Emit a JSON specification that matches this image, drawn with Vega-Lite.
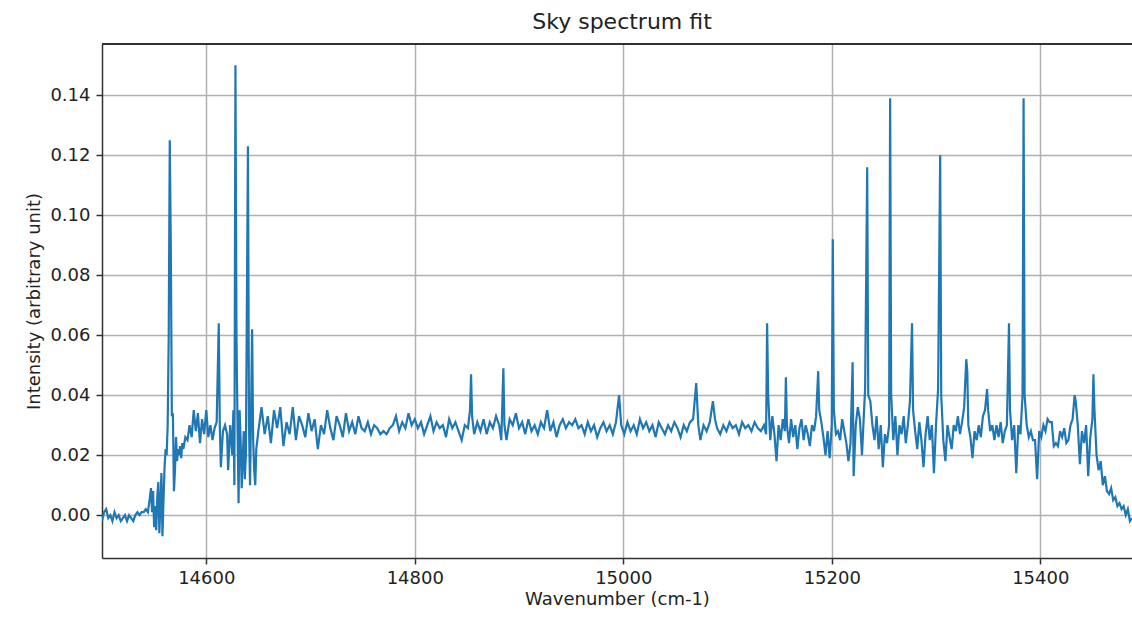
{
  "$schema": "https://vega.github.io/schema/vega-lite/v6.json",
  "width": 1030,
  "height": 514,
  "autosize": "none",
  "padding": {"left": 102, "top": 44, "right": 0, "bottom": 59},
  "config": {
    "view": {"stroke": null},
    "font": "DejaVu Sans",
    "axis": {
      "labelFont": "DejaVu Sans", "titleFont": "DejaVu Sans",
      "labelFontSize": 18, "titleFontSize": 18, "titleFontWeight": "normal",
      "labelColor": "#222", "titleColor": "#222",
      "domainColor": "#333", "domainWidth": 1.5,
      "tickColor": "#333", "tickWidth": 1.5, "tickSize": 6,
      "gridColor": "#b0b0b0", "gridWidth": 1.5, "gridOpacity": 1
    }
  },
  "title": {"text": "Sky spectrum fit", "fontSize": 22, "fontWeight": "normal", "font": "DejaVu Sans", "color": "#222", "offset": 9, "dx": 5},
  "data": {"values": [
    {"wavenumber":14500,"intensity":-0.002},{"wavenumber":14502,"intensity":0.001},{"wavenumber":14504,"intensity":0.002},{"wavenumber":14506,"intensity":-0.001},{"wavenumber":14508,"intensity":0.0},{"wavenumber":14510,"intensity":-0.002},{"wavenumber":14512,"intensity":0.001},{"wavenumber":14514,"intensity":-0.001},{"wavenumber":14516,"intensity":0.0},{"wavenumber":14518,"intensity":-0.002},{"wavenumber":14520,"intensity":-0.001},{"wavenumber":14522,"intensity":0.0},{"wavenumber":14524,"intensity":-0.002},{"wavenumber":14526,"intensity":0.0},{"wavenumber":14528,"intensity":-0.001},{"wavenumber":14530,"intensity":-0.002},{"wavenumber":14532,"intensity":0.0},{"wavenumber":14534,"intensity":0.001},{"wavenumber":14536,"intensity":0.0},{"wavenumber":14538,"intensity":0.001},{"wavenumber":14540,"intensity":0.001},{"wavenumber":14542,"intensity":0.002},{"wavenumber":14544,"intensity":0.001},
    {"wavenumber":14546,"intensity":0.006},{"wavenumber":14547,"intensity":0.009},{"wavenumber":14548,"intensity":0.001},{"wavenumber":14549,"intensity":0.008},{"wavenumber":14550,"intensity":-0.004},{"wavenumber":14551,"intensity":0.003},{"wavenumber":14552,"intensity":-0.005},{"wavenumber":14553,"intensity":0.006},{"wavenumber":14554,"intensity":0.011},{"wavenumber":14555,"intensity":-0.006},{"wavenumber":14556,"intensity":0.003},{"wavenumber":14557,"intensity":0.014},{"wavenumber":14558,"intensity":-0.007},{"wavenumber":14559,"intensity":0.005},{"wavenumber":14560,"intensity":0.016},{"wavenumber":14561,"intensity":0.022},{"wavenumber":14562,"intensity":0.02},{"wavenumber":14563,"intensity":0.03},{"wavenumber":14564,"intensity":0.06},{"wavenumber":14565,"intensity":0.125},{"wavenumber":14566,"intensity":0.09},{"wavenumber":14567,"intensity":0.033},{"wavenumber":14568,"intensity":0.034},{"wavenumber":14569,"intensity":0.008},{"wavenumber":14570,"intensity":0.015},{"wavenumber":14571,"intensity":0.026},{"wavenumber":14572,"intensity":0.018},{"wavenumber":14573,"intensity":0.022},{"wavenumber":14574,"intensity":0.02},{"wavenumber":14575,"intensity":0.023},{"wavenumber":14576,"intensity":0.019},{"wavenumber":14577,"intensity":0.024},{"wavenumber":14578,"intensity":0.022},{"wavenumber":14580,"intensity":0.026},{"wavenumber":14582,"intensity":0.025},
    {"wavenumber":14584,"intensity":0.03},{"wavenumber":14586,"intensity":0.026},{"wavenumber":14588,"intensity":0.035},{"wavenumber":14590,"intensity":0.028},{"wavenumber":14592,"intensity":0.034},{"wavenumber":14594,"intensity":0.024},{"wavenumber":14596,"intensity":0.032},{"wavenumber":14598,"intensity":0.027},{"wavenumber":14600,"intensity":0.035},{"wavenumber":14602,"intensity":0.026},{"wavenumber":14604,"intensity":0.03},{"wavenumber":14606,"intensity":0.025},{"wavenumber":14608,"intensity":0.029},{"wavenumber":14610,"intensity":0.031},{"wavenumber":14612,"intensity":0.064},{"wavenumber":14613,"intensity":0.03},{"wavenumber":14614,"intensity":0.016},{"wavenumber":14616,"intensity":0.028},{"wavenumber":14618,"intensity":0.03},{"wavenumber":14620,"intensity":0.027},{"wavenumber":14621,"intensity":0.015},{"wavenumber":14623,"intensity":0.03},{"wavenumber":14625,"intensity":0.02},{"wavenumber":14626,"intensity":0.035},{"wavenumber":14627,"intensity":0.01},{"wavenumber":14628,"intensity":0.15},{"wavenumber":14629,"intensity":0.06},{"wavenumber":14630,"intensity":0.03},{"wavenumber":14631,"intensity":0.004},{"wavenumber":14632,"intensity":0.035},{"wavenumber":14633,"intensity":0.025},{"wavenumber":14634,"intensity":0.009},{"wavenumber":14636,"intensity":0.028},{"wavenumber":14637,"intensity":0.012},{"wavenumber":14638,"intensity":0.02},{"wavenumber":14640,"intensity":0.123},{"wavenumber":14641,"intensity":0.03},{"wavenumber":14642,"intensity":0.01},{"wavenumber":14643,"intensity":0.035},{"wavenumber":14644,"intensity":0.062},{"wavenumber":14645,"intensity":0.025},{"wavenumber":14646,"intensity":0.015},{"wavenumber":14647,"intensity":0.01},{"wavenumber":14648,"intensity":0.022},
    {"wavenumber":14650,"intensity":0.028},{"wavenumber":14653,"intensity":0.036},{"wavenumber":14656,"intensity":0.027},{"wavenumber":14659,"intensity":0.033},{"wavenumber":14662,"intensity":0.024},{"wavenumber":14665,"intensity":0.035},{"wavenumber":14668,"intensity":0.029},{"wavenumber":14671,"intensity":0.036},{"wavenumber":14674,"intensity":0.023},{"wavenumber":14677,"intensity":0.031},{"wavenumber":14680,"intensity":0.027},{"wavenumber":14683,"intensity":0.036},{"wavenumber":14686,"intensity":0.025},{"wavenumber":14689,"intensity":0.033},{"wavenumber":14692,"intensity":0.03},{"wavenumber":14695,"intensity":0.026},{"wavenumber":14698,"intensity":0.034},{"wavenumber":14701,"intensity":0.028},{"wavenumber":14704,"intensity":0.032},{"wavenumber":14707,"intensity":0.022},{"wavenumber":14710,"intensity":0.03},{"wavenumber":14713,"intensity":0.027},{"wavenumber":14716,"intensity":0.035},{"wavenumber":14719,"intensity":0.029},{"wavenumber":14722,"intensity":0.025},{"wavenumber":14725,"intensity":0.033},{"wavenumber":14728,"intensity":0.03},{"wavenumber":14731,"intensity":0.026},{"wavenumber":14734,"intensity":0.034},{"wavenumber":14737,"intensity":0.028},{"wavenumber":14740,"intensity":0.031},{"wavenumber":14743,"intensity":0.027},{"wavenumber":14746,"intensity":0.033},{"wavenumber":14749,"intensity":0.029},{"wavenumber":14752,"intensity":0.028},{"wavenumber":14755,"intensity":0.031},{"wavenumber":14758,"intensity":0.027},{"wavenumber":14761,"intensity":0.03},{"wavenumber":14764,"intensity":0.029},{"wavenumber":14767,"intensity":0.027},{"wavenumber":14770,"intensity":0.028},{"wavenumber":14773,"intensity":0.027},{"wavenumber":14776,"intensity":0.029},{"wavenumber":14779,"intensity":0.03},{"wavenumber":14782,"intensity":0.033},{"wavenumber":14785,"intensity":0.028},{"wavenumber":14788,"intensity":0.031},{"wavenumber":14791,"intensity":0.029},{"wavenumber":14794,"intensity":0.034},{"wavenumber":14797,"intensity":0.03},{"wavenumber":14800,"intensity":0.032},{"wavenumber":14803,"intensity":0.029},{"wavenumber":14806,"intensity":0.031},{"wavenumber":14809,"intensity":0.027},{"wavenumber":14812,"intensity":0.03},{"wavenumber":14815,"intensity":0.033},{"wavenumber":14818,"intensity":0.028},{"wavenumber":14821,"intensity":0.031},{"wavenumber":14824,"intensity":0.029},{"wavenumber":14827,"intensity":0.03},{"wavenumber":14830,"intensity":0.026},{"wavenumber":14833,"intensity":0.032},{"wavenumber":14836,"intensity":0.029},{"wavenumber":14839,"intensity":0.031},{"wavenumber":14842,"intensity":0.028},{"wavenumber":14845,"intensity":0.025},{"wavenumber":14848,"intensity":0.03},{"wavenumber":14851,"intensity":0.029},{"wavenumber":14853,"intensity":0.035},{"wavenumber":14854,"intensity":0.047},{"wavenumber":14855,"intensity":0.033},{"wavenumber":14857,"intensity":0.027},{"wavenumber":14860,"intensity":0.031},{"wavenumber":14863,"intensity":0.028},{"wavenumber":14866,"intensity":0.032},{"wavenumber":14869,"intensity":0.027},{"wavenumber":14872,"intensity":0.031},{"wavenumber":14875,"intensity":0.029},{"wavenumber":14878,"intensity":0.033},{"wavenumber":14881,"intensity":0.03},{"wavenumber":14883,"intensity":0.025},{"wavenumber":14885,"intensity":0.049},{"wavenumber":14886,"intensity":0.03},{"wavenumber":14888,"intensity":0.025},{"wavenumber":14891,"intensity":0.032},{"wavenumber":14894,"intensity":0.03},{"wavenumber":14897,"intensity":0.034},{"wavenumber":14900,"intensity":0.029},{"wavenumber":14903,"intensity":0.031},{"wavenumber":14906,"intensity":0.027},{"wavenumber":14909,"intensity":0.032},{"wavenumber":14912,"intensity":0.028},{"wavenumber":14915,"intensity":0.03},{"wavenumber":14918,"intensity":0.027},{"wavenumber":14921,"intensity":0.031},{"wavenumber":14924,"intensity":0.029},{"wavenumber":14927,"intensity":0.035},{"wavenumber":14930,"intensity":0.028},{"wavenumber":14933,"intensity":0.031},{"wavenumber":14936,"intensity":0.026},{"wavenumber":14939,"intensity":0.03},{"wavenumber":14942,"intensity":0.032},{"wavenumber":14945,"intensity":0.029},{"wavenumber":14948,"intensity":0.031},{"wavenumber":14951,"intensity":0.03},{"wavenumber":14954,"intensity":0.032},{"wavenumber":14957,"intensity":0.029},{"wavenumber":14960,"intensity":0.03},{"wavenumber":14963,"intensity":0.027},{"wavenumber":14966,"intensity":0.031},{"wavenumber":14969,"intensity":0.028},{"wavenumber":14972,"intensity":0.03},{"wavenumber":14975,"intensity":0.026},{"wavenumber":14978,"intensity":0.029},{"wavenumber":14981,"intensity":0.031},{"wavenumber":14984,"intensity":0.028},{"wavenumber":14987,"intensity":0.03},{"wavenumber":14990,"intensity":0.027},{"wavenumber":14993,"intensity":0.031},{"wavenumber":14996,"intensity":0.04},{"wavenumber":14998,"intensity":0.03},{"wavenumber":15001,"intensity":0.027},{"wavenumber":15004,"intensity":0.031},{"wavenumber":15007,"intensity":0.028},{"wavenumber":15010,"intensity":0.03},{"wavenumber":15013,"intensity":0.027},{"wavenumber":15016,"intensity":0.032},{"wavenumber":15019,"intensity":0.029},{"wavenumber":15022,"intensity":0.031},{"wavenumber":15025,"intensity":0.028},{"wavenumber":15028,"intensity":0.03},{"wavenumber":15031,"intensity":0.026},{"wavenumber":15034,"intensity":0.031},{"wavenumber":15037,"intensity":0.029},{"wavenumber":15040,"intensity":0.027},{"wavenumber":15043,"intensity":0.03},{"wavenumber":15046,"intensity":0.028},{"wavenumber":15049,"intensity":0.031},{"wavenumber":15052,"intensity":0.029},{"wavenumber":15055,"intensity":0.026},{"wavenumber":15058,"intensity":0.03},{"wavenumber":15061,"intensity":0.028},{"wavenumber":15064,"intensity":0.031},{"wavenumber":15067,"intensity":0.032},{"wavenumber":15070,"intensity":0.044},{"wavenumber":15072,"intensity":0.03},{"wavenumber":15074,"intensity":0.025},{"wavenumber":15077,"intensity":0.03},{"wavenumber":15080,"intensity":0.028},{"wavenumber":15083,"intensity":0.031},{"wavenumber":15086,"intensity":0.038},{"wavenumber":15088,"intensity":0.032},{"wavenumber":15090,"intensity":0.029},{"wavenumber":15093,"intensity":0.027},{"wavenumber":15096,"intensity":0.03},{"wavenumber":15099,"intensity":0.028},{"wavenumber":15102,"intensity":0.031},{"wavenumber":15105,"intensity":0.029},{"wavenumber":15108,"intensity":0.03},{"wavenumber":15111,"intensity":0.027},{"wavenumber":15114,"intensity":0.031},{"wavenumber":15117,"intensity":0.029},{"wavenumber":15120,"intensity":0.03},{"wavenumber":15123,"intensity":0.028},{"wavenumber":15126,"intensity":0.031},{"wavenumber":15129,"intensity":0.029},{"wavenumber":15132,"intensity":0.028},{"wavenumber":15135,"intensity":0.03},{"wavenumber":15137,"intensity":0.027},{"wavenumber":15138,"intensity":0.064},{"wavenumber":15139,"intensity":0.04},{"wavenumber":15141,"intensity":0.025},{"wavenumber":15143,"intensity":0.033},{"wavenumber":15145,"intensity":0.027},{"wavenumber":15147,"intensity":0.018},{"wavenumber":15149,"intensity":0.03},{"wavenumber":15151,"intensity":0.025},{"wavenumber":15153,"intensity":0.032},{"wavenumber":15155,"intensity":0.028},{"wavenumber":15156,"intensity":0.046},{"wavenumber":15157,"intensity":0.03},{"wavenumber":15159,"intensity":0.024},{"wavenumber":15161,"intensity":0.032},{"wavenumber":15163,"intensity":0.026},{"wavenumber":15165,"intensity":0.03},{"wavenumber":15167,"intensity":0.022},{"wavenumber":15169,"intensity":0.029},{"wavenumber":15171,"intensity":0.032},{"wavenumber":15173,"intensity":0.025},{"wavenumber":15175,"intensity":0.03},{"wavenumber":15177,"intensity":0.027},{"wavenumber":15179,"intensity":0.023},{"wavenumber":15181,"intensity":0.03},{"wavenumber":15183,"intensity":0.028},{"wavenumber":15185,"intensity":0.033},{"wavenumber":15187,"intensity":0.048},{"wavenumber":15188,"intensity":0.035},{"wavenumber":15190,"intensity":0.031},{"wavenumber":15192,"intensity":0.026},{"wavenumber":15194,"intensity":0.02},{"wavenumber":15196,"intensity":0.028},{"wavenumber":15198,"intensity":0.019},{"wavenumber":15200,"intensity":0.03},{"wavenumber":15201,"intensity":0.092},{"wavenumber":15202,"intensity":0.035},{"wavenumber":15204,"intensity":0.027},{"wavenumber":15206,"intensity":0.028},{"wavenumber":15208,"intensity":0.025},{"wavenumber":15210,"intensity":0.032},{"wavenumber":15212,"intensity":0.028},{"wavenumber":15214,"intensity":0.024},{"wavenumber":15216,"intensity":0.018},{"wavenumber":15218,"intensity":0.024},{"wavenumber":15220,"intensity":0.051},{"wavenumber":15221,"intensity":0.013},{"wavenumber":15223,"intensity":0.03},{"wavenumber":15225,"intensity":0.036},{"wavenumber":15227,"intensity":0.032},{"wavenumber":15229,"intensity":0.02},{"wavenumber":15231,"intensity":0.035},{"wavenumber":15232,"intensity":0.042},{"wavenumber":15234,"intensity":0.116},{"wavenumber":15235,"intensity":0.04},{"wavenumber":15237,"intensity":0.038},{"wavenumber":15239,"intensity":0.03},{"wavenumber":15241,"intensity":0.025},{"wavenumber":15243,"intensity":0.033},{"wavenumber":15245,"intensity":0.022},{"wavenumber":15247,"intensity":0.03},{"wavenumber":15249,"intensity":0.016},{"wavenumber":15251,"intensity":0.027},{"wavenumber":15253,"intensity":0.024},{"wavenumber":15255,"intensity":0.03},{"wavenumber":15256,"intensity":0.139},{"wavenumber":15257,"intensity":0.04},{"wavenumber":15259,"intensity":0.025},{"wavenumber":15261,"intensity":0.033},{"wavenumber":15263,"intensity":0.02},{"wavenumber":15265,"intensity":0.03},{"wavenumber":15267,"intensity":0.027},{"wavenumber":15269,"intensity":0.033},{"wavenumber":15271,"intensity":0.024},{"wavenumber":15273,"intensity":0.03},{"wavenumber":15275,"intensity":0.038},{"wavenumber":15277,"intensity":0.064},{"wavenumber":15278,"intensity":0.035},{"wavenumber":15280,"intensity":0.028},{"wavenumber":15282,"intensity":0.022},{"wavenumber":15284,"intensity":0.031},{"wavenumber":15286,"intensity":0.025},{"wavenumber":15288,"intensity":0.016},{"wavenumber":15290,"intensity":0.027},{"wavenumber":15292,"intensity":0.033},{"wavenumber":15294,"intensity":0.025},{"wavenumber":15296,"intensity":0.03},{"wavenumber":15298,"intensity":0.014},{"wavenumber":15300,"intensity":0.03},{"wavenumber":15302,"intensity":0.042},{"wavenumber":15304,"intensity":0.12},{"wavenumber":15305,"intensity":0.04},{"wavenumber":15307,"intensity":0.025},{"wavenumber":15309,"intensity":0.018},{"wavenumber":15311,"intensity":0.03},{"wavenumber":15313,"intensity":0.026},{"wavenumber":15315,"intensity":0.022},{"wavenumber":15317,"intensity":0.03},{"wavenumber":15319,"intensity":0.028},{"wavenumber":15321,"intensity":0.033},{"wavenumber":15323,"intensity":0.027},{"wavenumber":15325,"intensity":0.031},{"wavenumber":15327,"intensity":0.036},{"wavenumber":15329,"intensity":0.052},{"wavenumber":15330,"intensity":0.048},{"wavenumber":15331,"intensity":0.03},{"wavenumber":15333,"intensity":0.026},{"wavenumber":15335,"intensity":0.019},{"wavenumber":15337,"intensity":0.028},{"wavenumber":15339,"intensity":0.025},{"wavenumber":15341,"intensity":0.03},{"wavenumber":15343,"intensity":0.026},{"wavenumber":15345,"intensity":0.033},{"wavenumber":15347,"intensity":0.035},{"wavenumber":15349,"intensity":0.042},{"wavenumber":15350,"intensity":0.035},{"wavenumber":15352,"intensity":0.028},{"wavenumber":15354,"intensity":0.03},{"wavenumber":15356,"intensity":0.025},{"wavenumber":15358,"intensity":0.03},{"wavenumber":15360,"intensity":0.026},{"wavenumber":15362,"intensity":0.031},{"wavenumber":15364,"intensity":0.024},{"wavenumber":15366,"intensity":0.028},{"wavenumber":15368,"intensity":0.03},{"wavenumber":15370,"intensity":0.064},{"wavenumber":15371,"intensity":0.035},{"wavenumber":15373,"intensity":0.025},{"wavenumber":15375,"intensity":0.03},{"wavenumber":15377,"intensity":0.014},{"wavenumber":15379,"intensity":0.03},{"wavenumber":15381,"intensity":0.027},{"wavenumber":15383,"intensity":0.04},{"wavenumber":15384,"intensity":0.139},{"wavenumber":15385,"intensity":0.04},{"wavenumber":15387,"intensity":0.03},{"wavenumber":15389,"intensity":0.026},{"wavenumber":15391,"intensity":0.028},{"wavenumber":15393,"intensity":0.025},{"wavenumber":15395,"intensity":0.025},{"wavenumber":15397,"intensity":0.012},{"wavenumber":15399,"intensity":0.028},{"wavenumber":15401,"intensity":0.026},{"wavenumber":15403,"intensity":0.03},{"wavenumber":15405,"intensity":0.028},{"wavenumber":15407,"intensity":0.032},{"wavenumber":15409,"intensity":0.031},{"wavenumber":15411,"intensity":0.031},{"wavenumber":15413,"intensity":0.023},{"wavenumber":15415,"intensity":0.024},{"wavenumber":15417,"intensity":0.023},{"wavenumber":15419,"intensity":0.028},{"wavenumber":15421,"intensity":0.026},{"wavenumber":15423,"intensity":0.029},{"wavenumber":15425,"intensity":0.024},{"wavenumber":15427,"intensity":0.025},{"wavenumber":15429,"intensity":0.03},{"wavenumber":15431,"intensity":0.032},{"wavenumber":15433,"intensity":0.04},{"wavenumber":15434,"intensity":0.038},{"wavenumber":15436,"intensity":0.03},{"wavenumber":15438,"intensity":0.017},{"wavenumber":15440,"intensity":0.028},{"wavenumber":15442,"intensity":0.024},{"wavenumber":15444,"intensity":0.03},{"wavenumber":15446,"intensity":0.013},{"wavenumber":15448,"intensity":0.026},{"wavenumber":15450,"intensity":0.032},{"wavenumber":15451,"intensity":0.047},{"wavenumber":15452,"intensity":0.035},{"wavenumber":15454,"intensity":0.02},{"wavenumber":15456,"intensity":0.015},{"wavenumber":15458,"intensity":0.018},{"wavenumber":15460,"intensity":0.01},{"wavenumber":15462,"intensity":0.013},{"wavenumber":15464,"intensity":0.008},{"wavenumber":15466,"intensity":0.007},{"wavenumber":15468,"intensity":0.009},{"wavenumber":15470,"intensity":0.005},{"wavenumber":15472,"intensity":0.006},{"wavenumber":15474,"intensity":0.003},{"wavenumber":15476,"intensity":0.004},{"wavenumber":15478,"intensity":0.002},{"wavenumber":15480,"intensity":0.003},{"wavenumber":15482,"intensity":0.0},{"wavenumber":15484,"intensity":0.002},{"wavenumber":15486,"intensity":-0.002},{"wavenumber":15488,"intensity":-0.001}
  ]},
  "layer": [
    {
      "mark": {"type": "line", "color": "#1f77b4", "strokeWidth": 2.2, "clip": true},
      "encoding": {
        "x": {"field": "wavenumber", "type": "quantitative",
              "scale": {"domain": [14500, 15488], "nice": false, "zero": false},
              "axis": {"title": "Wavenumber (cm-1)", "values": [14600, 14800, 15000, 15200, 15400], "format": "d", "labelPadding": 5, "titlePadding": 3, "grid": true}},
        "y": {"field": "intensity", "type": "quantitative",
              "scale": {"domain": [-0.0143, 0.1571], "nice": false, "zero": false},
              "axis": {"title": "Intensity (arbitrary unit)", "values": [0, 0.02, 0.04, 0.06, 0.08, 0.1, 0.12, 0.14], "format": ".2f", "labelPadding": 6, "titlePadding": 6, "grid": true}}
      }
    },
    {
      "mark": {"type": "rule", "color": "#333", "strokeWidth": 1.5},
      "encoding": {"y": {"datum": 0.1571}}
    }
  ]
}
